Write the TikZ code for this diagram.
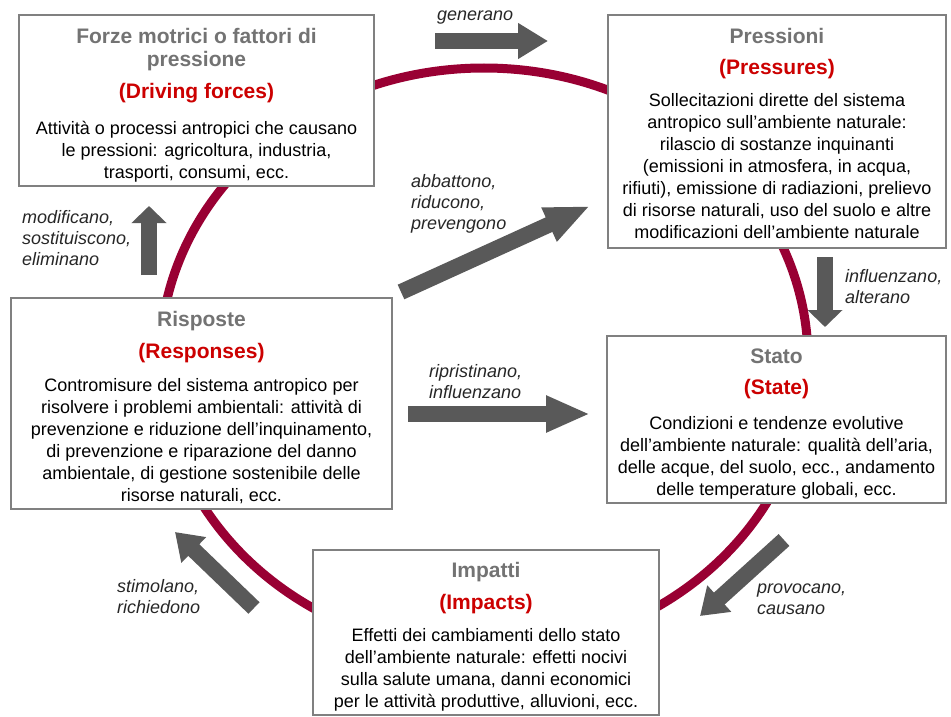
\documentclass[tikz,border=0pt]{standalone}
\usepackage{fontspec}
\setmainfont{Liberation Sans}
\usepackage{tikz}
\usetikzlibrary{arrows.meta, positioning}

\definecolor{ringred}{RGB}{153,0,51}
\definecolor{titlegray}{RGB}{115,115,115}
\definecolor{subred}{RGB}{204,0,0}
\definecolor{framegray}{RGB}{128,128,128}
\definecolor{arrowgray}{RGB}{89,89,89}

\newcommand{\ttl}{\fontsize{21}{25}\selectfont\bfseries\color{titlegray}}
\newcommand{\sbt}{\fontsize{21}{25}\selectfont\bfseries\color{subred}}

\begin{document}
\begin{tikzpicture}[
		x=1pt, y=-1pt,
		frame/.style={draw=framegray, line width=1.2pt, fill=white, inner sep=0pt},
		boxtext/.style={align=center, inner sep=0pt, font=\fontsize{18}{22}\selectfont},
		verb/.style={align=left, inner sep=0pt, anchor=base west, text=black!85,
			font=\fontsize{18}{21}\selectfont\itshape},
		fat/.style={line width=16pt, draw=arrowgray, -{Triangle[width=34pt, length=#1]}}
	]
	\useasboundingbox (0,0) rectangle (951,717);
	
	% ring behind the boxes
	\draw[ringred, line width=9pt] (484,360) ellipse [x radius=324pt, y radius=292pt];
	
	% boxes
	\node[frame, minimum width=355pt, minimum height=171pt] (drv) at (196.5,100.5) {};
	\node[frame, minimum width=338pt, minimum height=233pt] (prs) at (777,131.5) {};
	\node[frame, minimum width=381pt, minimum height=211pt] (rsp) at (201.5,403.5) {};
	\node[frame, minimum width=339pt, minimum height=167pt] (sta) at (776.5,419.5) {};
	\node[frame, minimum width=346pt, minimum height=165pt] (imp) at (486,632.5) {};
	
	\node[boxtext, below=13.5pt of drv.north] (drvt) {\ttl Forze motrici o fattori di\\[1pt]\ttl pressione\\[10pt]
		\sbt (Driving forces)\\[14pt]
		Attività o processi antropici che causano\\le pressioni: agricoltura, industria,\\trasporti, consumi, ecc.};
	\node[boxtext, below=13.5pt of prs.north] (prst) {\ttl Pressioni\\[9pt]
		\sbt (Pressures)\\[10pt]
		Sollecitazioni dirette del sistema\\antropico sull’ambiente naturale:\\rilascio di sostanze inquinanti\\
		(emissioni in atmosfera, in acqua,\\rifiuti), emissione di radiazioni, prelievo\\
		di risorse naturali, uso del suolo e altre\\modificazioni dell’ambiente naturale};
	\node[boxtext, below=13.5pt of rsp.north] (rspt) {\ttl Risposte\\[10pt]
		\sbt (Responses)\\[11pt]
		Contromisure del sistema antropico per\\risolvere i problemi ambientali: attività di\\
		prevenzione e riduzione dell’inquinamento,\\di prevenzione e riparazione del danno\\
		ambientale, di gestione sostenibile delle\\risorse naturali, ecc.};
	\node[boxtext, below=13.5pt of sta.north] (stat) {\ttl Stato\\[9pt]
		\sbt (State)\\[13pt]
		Condizioni e tendenze evolutive\\dell’ambiente naturale: qualità dell’aria,\\
		delle acque, del suolo, ecc., andamento\\delle temperature globali, ecc.};
	\node[boxtext, below=13pt of imp.north] (impt) {\ttl Impatti\\[10pt]
		\sbt (Impacts)\\[10pt]
		Effetti dei cambiamenti dello stato\\dell’ambiente naturale: effetti nocivi\\
		sulla salute umana, danni economici\\per le attività produttive, alluvioni, ecc.};
	
	% block arrows
	\coordinate (genA) at (435,41);
	\coordinate (genB) at (548,41);
	\coordinate (abbA) at (401,292);
	\coordinate (abbB) at (590,206);
	\coordinate (modA) at (149,275);
	\coordinate (modB) at (149,206);
	\coordinate (infA) at (825,257);
	\coordinate (infB) at (825,327);
	\coordinate (ripA) at (408,414);
	\coordinate (ripB) at (590,414);
	\coordinate (proA) at (784,540);
	\coordinate (proB) at (700,616);
	\coordinate (stiA) at (254,608);
	\coordinate (stiB) at (175,532);
	
	\draw[fat=30pt] (genA) -- (genB);
	\draw[fat=45pt] (abbA) -- (abbB);
	\draw[fat=17pt] (modA) -- (modB);
	\draw[fat=17pt] (infA) -- (infB);
	\draw[fat=44pt] (ripA) -- (ripB);
	\draw[fat=26pt] (proA) -- (proB);
	\draw[fat=26pt] (stiA) -- (stiB);
	
	% verbs (base = last line)
	\node[verb] (genL) at (437,21) {generano};
	\node[verb] (abbL) at (411,229) {abbattono,\\riducono,\\prevengono};
	\node[verb] (modL) at (22,265) {modificano,\\sostituiscono,\\eliminano};
	\node[verb] (infL) at (845,303) {influenzano,\\alterano};
	\node[verb] (ripL) at (429,398) {ripristinano,\\influenzano};
	\node[verb] (proL) at (757,614) {provocano,\\causano};
	\node[verb] (stiL) at (117,613) {stimolano,\\richiedono};
\end{tikzpicture}
\end{document}
